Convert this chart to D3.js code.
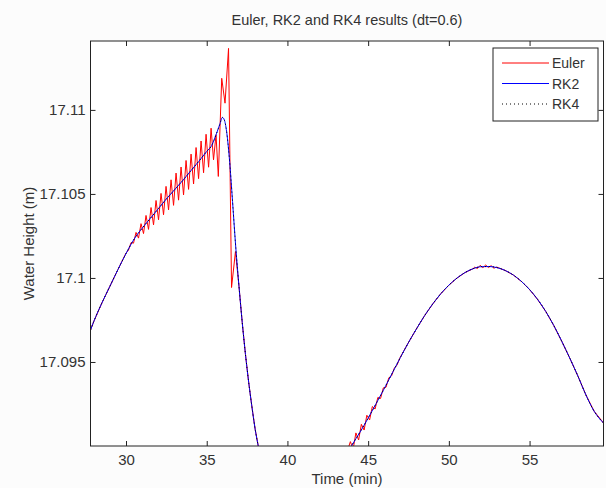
<!DOCTYPE html>
<html>
<head>
<meta charset="utf-8">
<script src="https://cdn.jsdelivr.net/npm/d3@7"></script>
<style>
  body { margin: 0; background: #fcfcfc; }
  svg { display: block; font-family: "Liberation Sans", Arial, sans-serif; }
</style>
</head>
<body>
<div id="chart"></div>
<script>
// time (min) / water height (m)
const rkTime = [27.8, 28, 28.5, 29, 29.5, 30, 30.5, 31, 31.5, 32, 32.5, 33, 33.5, 34, 34.5,
  35, 35.3, 35.6, 35.8, 35.97, 36.1, 36.25, 36.4, 36.6, 36.8, 37, 37.2, 37.4, 37.6, 37.8,
  38, 38.2, 38.5, 39, 40, 41, 42, 43, 43.5, 44, 44.5, 45, 45.5, 46, 46.5, 47, 47.5, 48,
  48.5, 49, 49.5, 50, 50.5, 51, 51.5, 52, 52.5, 53, 53.5, 54, 54.5, 55, 55.5, 56, 56.5,
  57, 57.5, 58, 58.5, 59, 59.6];
const rk2Height = [17.09690, 17.09740, 17.09850, 17.09950, 17.10050, 17.10145, 17.10231,
  17.10296, 17.10354, 17.10412, 17.10470, 17.10524, 17.10578, 17.10636, 17.10693, 17.10753,
  17.10787, 17.10858, 17.10911, 17.10955, 17.10938, 17.10858, 17.10715, 17.10454, 17.10181,
  17.09949, 17.09735, 17.09545, 17.09379, 17.09233, 17.09100, 17.08996, 17.08860, 17.08680,
  17.08580, 17.08540, 17.08620, 17.08800, 17.08910, 17.09005, 17.09083, 17.09166, 17.09253,
  17.09342, 17.09435, 17.09527, 17.09616, 17.09698, 17.09776, 17.09845, 17.09906, 17.09957,
  17.09999, 17.10032, 17.10055, 17.10067, 17.10068, 17.10061, 17.10044, 17.10017, 17.09979,
  17.09931, 17.09872, 17.09801, 17.09717, 17.09622, 17.09521, 17.09415, 17.09302, 17.09207,
  17.09135];
// RK4 sits on top of RK2 at this scale
const rk4Height = rk2Height.slice();

const eulerTime = [27.8, 28, 28.5, 29, 29.5,
  30.000, 30.155, 30.310, 30.465, 30.620, 30.775, 30.930, 31.085, 31.240, 31.395, 31.550,
  31.705, 31.860, 32.015, 32.170, 32.325, 32.480, 32.635, 32.790, 32.945, 33.100, 33.255,
  33.410, 33.565, 33.720, 33.875, 34.030, 34.185, 34.340, 34.495, 34.650, 34.805, 34.960,
  35.115, 35.270,
  35.421, 35.576, 35.718, 35.929, 36.134, 36.351, 36.537, 36.78,
  37, 37.2, 37.4, 37.6, 37.8, 38, 38.2, 38.5, 39, 40, 41, 42, 43, 43.5,
  43.90, 44.07, 44.24, 44.41, 44.58, 44.75, 44.92, 45.09, 45.26, 45.43, 45.60, 45.77, 45.94,
  46.11, 46.28, 46.45, 46.62, 46.79, 46.96,
  47.5, 48, 48.5, 49, 49.5, 50, 50.5, 51, 51.5,
  51.6, 51.77, 51.94, 52.11, 52.28, 52.45, 52.62, 52.79, 52.96,
  53.5, 54, 54.5, 55, 55.5, 56, 56.5, 57, 57.5, 58, 58.5, 59, 59.6];
const eulerHeight = [17.09690, 17.09740, 17.09850, 17.09950, 17.10050,
  17.10148, 17.10166, 17.10210, 17.10207, 17.10271, 17.10237, 17.10323, 17.10264, 17.10372,
  17.10289, 17.10419, 17.10316, 17.10461, 17.10346, 17.10503, 17.10376, 17.10545, 17.10405,
  17.10584, 17.10432, 17.10624, 17.10463, 17.10660, 17.10494, 17.10699, 17.10527, 17.10737,
  17.10559, 17.10776, 17.10591, 17.10815, 17.10626, 17.10855, 17.10659, 17.10891,
  17.10703, 17.10852, 17.10604, 17.11188, 17.11040, 17.11366, 17.09943, 17.10157,
  17.09949, 17.09735, 17.09545, 17.09379, 17.09233, 17.09100, 17.08996, 17.08860, 17.08680,
  17.08580, 17.08540, 17.08620, 17.08800, 17.08910,
  17.09026, 17.08980, 17.09078, 17.09036, 17.09129, 17.09095, 17.09183, 17.09155, 17.09235,
  17.09220, 17.09289, 17.09283, 17.09346, 17.09350, 17.09406, 17.09417, 17.09463, 17.09482,
  17.09523,
  17.09616, 17.09698, 17.09776, 17.09845, 17.09906, 17.09957, 17.09999, 17.10032, 17.10055,
  17.10064, 17.10056, 17.10075, 17.10061, 17.10077, 17.10062, 17.10073, 17.10058, 17.10065,
  17.10044, 17.10017, 17.09979, 17.09931, 17.09872, 17.09801, 17.09717, 17.09622, 17.09521,
  17.09415, 17.09302, 17.09207, 17.09135];

const xTicks = [30, 35, 40, 45, 50, 55];
const yTicks = [17.095, 17.1, 17.105, 17.11];
const seriesNames = ["Euler", "RK2", "RK4"];

const width = 606, height = 488;
const margin = { top: 41, right: 2.5, bottom: 42, left: 90.5 };

const x = d3.scaleLinear().domain([27.8, 59.58]).range([margin.left, width - margin.right]);
const y = d3.scaleLinear().domain([17.0900, 17.1141]).range([height - margin.bottom, margin.top]);

const svg = d3.select("#chart").append("svg")
    .attr("width", width)
    .attr("height", height);

svg.append("rect").attr("width", width).attr("height", height).attr("fill", "#fcfcfc");
svg.append("rect")
    .attr("x", margin.left).attr("y", margin.top)
    .attr("width", x.range()[1] - margin.left)
    .attr("height", y.range()[0] - margin.top)
    .attr("fill", "#fff");

svg.append("clipPath").attr("id", "plot")
  .append("rect")
    .attr("x", margin.left).attr("y", margin.top)
    .attr("width", x.range()[1] - margin.left)
    .attr("height", y.range()[0] - margin.top);

const rkLine = d3.line().x(d => x(d[0])).y(d => y(d[1])).curve(d3.curveMonotoneX);
const eulerLine = d3.line().x(d => x(d[0])).y(d => y(d[1]));

const plot = svg.append("g").attr("clip-path", "url(#plot)");

const dotted = "1,3";
plot.append("path")
    .attr("d", eulerLine(d3.zip(eulerTime, eulerHeight)))
    .attr("fill", "none").attr("stroke", "#f00").attr("stroke-width", 1);
plot.append("path")
    .attr("d", rkLine(d3.zip(rkTime, rk2Height)))
    .attr("fill", "none").attr("stroke", "#00f").attr("stroke-width", 1);
plot.append("path")
    .attr("d", rkLine(d3.zip(rkTime, rk4Height)))
    .attr("fill", "none").attr("stroke", "#000").attr("stroke-width", 1)
    .attr("stroke-dasharray", dotted);

// axes (MATLAB style: ticks inside, box on)
const tickFont = 15, labelFont = 15, titleFont = 14.5, legendFont = 14;
const ink = "#333";
const axBottom = svg.append("g")
    .attr("transform", `translate(0,${y.range()[0]})`)
    .call(d3.axisBottom(x).tickValues(xTicks).tickSize(-5).tickPadding(8).tickFormat(d3.format("d")));
const axTop = svg.append("g")
    .attr("transform", `translate(0,${margin.top})`)
    .call(d3.axisTop(x).tickValues(xTicks).tickSize(-5).tickFormat(""));
const axLeft = svg.append("g")
    .attr("transform", `translate(${margin.left},0)`)
    .call(d3.axisLeft(y).tickValues(yTicks).tickSize(-5).tickPadding(5).tickFormat(d => String(+d.toFixed(3))));
const axRight = svg.append("g")
    .attr("transform", `translate(${x.range()[1]},0)`)
    .call(d3.axisRight(y).tickValues(yTicks).tickSize(-5).tickFormat(""));

[axBottom, axTop, axLeft, axRight].forEach(g => {
  g.select(".domain").remove();
  g.selectAll("line").attr("stroke", "#222");
  g.selectAll("text").attr("font-size", tickFont).attr("fill", ink)
    .attr("font-family", "'Liberation Sans', Arial, sans-serif");
});

svg.append("rect")
    .attr("x", margin.left).attr("y", margin.top)
    .attr("width", x.range()[1] - margin.left)
    .attr("height", y.range()[0] - margin.top)
    .attr("fill", "none").attr("stroke", "#222").attr("stroke-width", 1);

svg.append("text")
    .attr("x", (margin.left + x.range()[1]) / 2).attr("y", 25)
    .attr("text-anchor", "middle").attr("font-size", titleFont).attr("fill", ink)
    .text("Euler, RK2 and RK4 results (dt=0.6)");
svg.append("text")
    .attr("x", (margin.left + x.range()[1]) / 2).attr("y", 484)
    .attr("text-anchor", "middle").attr("font-size", labelFont).attr("fill", ink)
    .text("Time (min)");
svg.append("text")
    .attr("transform", `translate(34,${(margin.top + y.range()[0]) / 2}) rotate(-90)`)
    .attr("text-anchor", "middle").attr("font-size", labelFont).attr("fill", ink)
    .text("Water Height (m)");

// legend
const legend = svg.append("g").attr("transform", "translate(493,48)");
legend.append("rect").attr("width", 105).attr("height", 73)
    .attr("fill", "#fff").attr("stroke", "#222");
const styles = [
  { stroke: "#f00", dash: null },
  { stroke: "#00f", dash: null },
  { stroke: "#000", dash: dotted }
];
seriesNames.forEach((name, i) => {
  const cy = 15 + i * 20.5;
  legend.append("line").attr("x1", 9).attr("x2", 56).attr("y1", cy).attr("y2", cy)
      .attr("stroke", styles[i].stroke).attr("stroke-dasharray", styles[i].dash);
  legend.append("text").attr("x", 59).attr("y", cy + 5)
      .attr("font-size", legendFont).attr("fill", ink).text(name);
});
</script>
</body>
</html>
